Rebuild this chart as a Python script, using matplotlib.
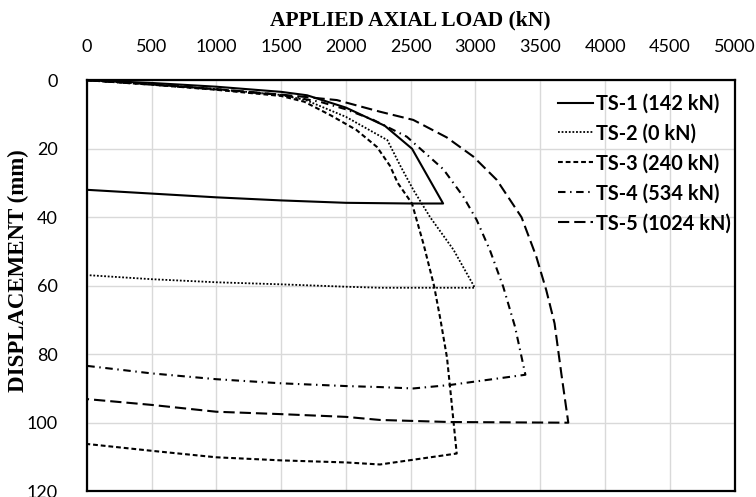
import matplotlib
matplotlib.use("Agg")
import matplotlib.pyplot as plt

# ---- data (load kN, displacement mm) ----
ts1_load = [0, 500, 1000, 1500, 1700, 2000, 2300, 2510, 2750, 2500, 2000, 1500, 1000, 500, 0]
ts1_disp = [0, 0.8, 1.9, 3.4, 4.4, 8.0, 13.3, 20.0, 36.0, 36.0, 35.8, 35.1, 34.2, 33.1, 32.0]

ts2_load = [0, 500, 1000, 1500, 1690, 2000, 2320, 2420, 2520, 2650, 2830, 2995, 2263, 2000, 1500, 1000, 500, 0]
ts2_disp = [0, 1.2, 2.6, 4.3, 5.8, 10.7, 17.5, 25.0, 32.0, 40.0, 49.5, 60.6, 60.6, 60.3, 59.6, 59.0, 58.1, 56.9]

ts3_load = [0, 500, 1000, 1500, 1680, 1880, 2080, 2240, 2340, 2400, 2510, 2600, 2680, 2730, 2780, 2810, 2855,
            2263, 2000, 1500, 1000, 500, 0]
ts3_disp = [0, 1.3, 2.8, 4.6, 6.3, 10.2, 14.5, 19.5, 25.0, 30.0, 36.0, 48.0, 60.0, 70.0, 81.0, 92.0, 109.0,
            112.2, 111.6, 111.0, 110.1, 108.2, 106.2]

ts4_load = [0, 500, 1000, 1500, 1800, 2000, 2212, 2470, 2752, 2906, 3009, 3111, 3214, 3305, 3385,
            2800, 2520, 2263, 2000, 1500, 1000, 500, 0]
ts4_disp = [0, 1.3, 2.7, 4.3, 6.3, 8.5, 11.6, 16.5, 26.0, 34.0, 40.8, 49.6, 60.3, 72.0, 86.0,
            89.0, 90.0, 89.6, 89.3, 88.5, 87.3, 85.6, 83.4]

ts5_load = [0, 500, 1000, 1500, 1930, 2263, 2520, 2778, 2983, 3164, 3355, 3469, 3546, 3610, 3662, 3716,
            2800, 2263, 2000, 1500, 1000, 500, 0]
ts5_disp = [0, 1.2, 2.6, 4.2, 5.8, 9.2, 11.6, 16.7, 22.3, 29.1, 40.0, 51.5, 61.3, 71.0, 85.6, 100.0,
            99.8, 99.2, 98.3, 97.5, 96.8, 94.8, 93.1]

labels = ["TS-1 (142 kN)", "TS-2 (0 kN)", "TS-3 (240 kN)", "TS-4 (534 kN)", "TS-5 (1024 kN)"]
x_ticks = [0, 500, 1000, 1500, 2000, 2500, 3000, 3500, 4000, 4500, 5000]
y_ticks = [0, 20, 40, 60, 80, 100, 120]

fig = plt.figure(figsize=(7.56, 4.97), dpi=100)
ax = fig.add_axes([86.7 / 756, 1 - 491.2 / 497, (734.7 - 86.7) / 756, (491.2 - 80.2) / 497])

lw = 1.5
ax.plot(ts1_load, ts1_disp, color="black", lw=lw, linestyle="-", label=labels[0])
ax.plot(ts2_load, ts2_disp, color="black", lw=1.3, linestyle=(0, (1, 1)), label=labels[1])
ax.plot(ts3_load, ts3_disp, color="black", lw=lw, linestyle=(0, (2.3, 1.4)), label=labels[2])
ax.plot(ts4_load, ts4_disp, color="black", lw=lw, linestyle=(0, (3.6, 2.2, 0.7, 2.2)), label=labels[3])
ax.plot(ts5_load, ts5_disp, color="black", lw=lw, linestyle=(0, (5.4, 2.4)), label=labels[4])

ax.set_xlim(0, 5000)
ax.set_ylim(120, 0)
ax.set_xticks(x_ticks)
ax.set_yticks(y_ticks)
ax.xaxis.tick_top()
ax.xaxis.set_label_position("top")
ax.tick_params(axis="both", length=0, labelsize=13)
ax.tick_params(axis="x", pad=18)
ax.tick_params(axis="y", pad=21)
for lab in ax.get_xticklabels() + ax.get_yticklabels():
    lab.set_fontfamily("Lato")
ax.grid(True, color="#d9d9d9", lw=1)
ax.set_axisbelow(True)
for s in ax.spines.values():
    s.set_color("black")
    s.set_linewidth(1.6)

ax.set_xlabel("APPLIED AXIAL LOAD (kN)", fontfamily="Liberation Serif", fontweight="bold",
              fontsize=15.5, va="center")
ax.xaxis.set_label_coords(0.5, (491.2 - 20) / 411)
ax.set_ylabel("DISPLACEMENT (mm)", fontfamily="Liberation Serif", fontweight="bold",
              fontsize=16.5, va="center")
ax.yaxis.set_label_coords((18 - 86.7) / 648, (491.2 - 271) / 411)

leg = ax.legend(loc="upper left", frameon=False, handlelength=1.76, handletextpad=0.17,
                labelspacing=0.5, borderaxespad=0, bbox_to_anchor=(0.715, 0.987),
                prop={"family": "Lato", "weight": "bold", "size": 14.3})

fig.savefig("out.png", dpi=100)
